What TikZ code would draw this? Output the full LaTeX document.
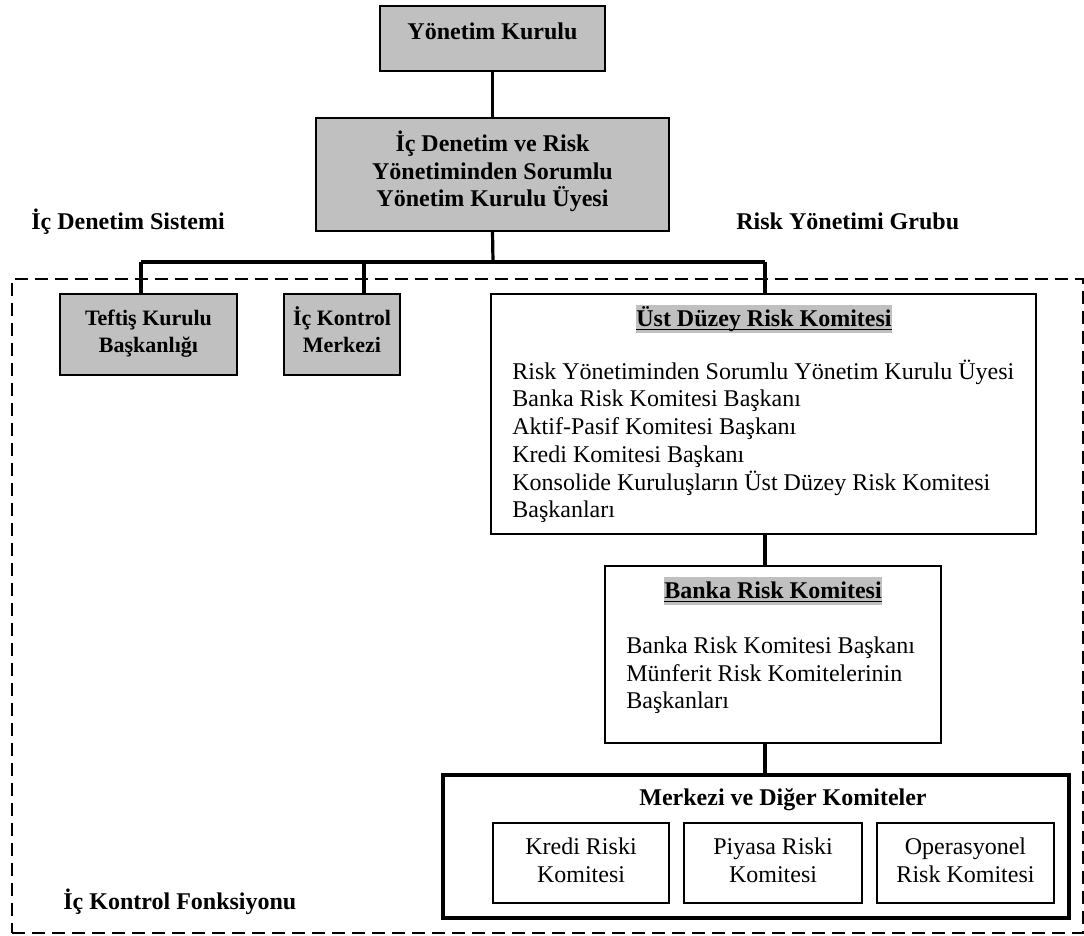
\documentclass[tikz,border=0pt]{standalone}
\usepackage{fontspec}
\setmainfont{Liberation Serif}
\definecolor{boxgray}{RGB}{192,192,192}
\definecolor{hlgray}{RGB}{192,192,192}
% underlined title with a fixed rule position
\newcommand\ultitle[1]{\setbox0=\hbox{#1}\copy0\llap{\rule[-1.7pt]{\wd0}{0.8pt}}}
\tikzset{
  box/.style={draw, line width=1pt, inner sep=0pt, outer sep=0pt},
  gbox/.style={box, fill=boxgray},
  conn/.style={line width=1.6pt},
  bus/.style={line width=2pt},
  frame/.style={draw, line width=1pt, dash pattern=on 6.5pt off 3.5pt, inner sep=0pt},
  btxt/.style={inner sep=0pt, anchor=base, align=center, font=\bfseries\fontsize{12}{13.75}\selectfont},
  stxt/.style={inner sep=0pt, anchor=base, align=center, font=\bfseries\fontsize{11}{13.5}\selectfont},
  rtxt/.style={inner sep=0pt, anchor=base, align=center, font=\fontsize{12}{14}\selectfont},
  ltxt/.style={inner sep=0pt, anchor=base west, align=left, font=\fontsize{12}{13.9}\selectfont},
  hltitle/.style={inner sep=0pt, anchor=base, fill=hlgray, text height=11pt, text depth=3pt, font=\bfseries\fontsize{12}{14}\selectfont},
}
\begin{document}
\begin{tikzpicture}[x=0.5pt, y=-0.5pt]
\useasboundingbox (0,0) rectangle (1084,936);

% outer dashed frame of the internal control function
\node[frame, minimum width=535.5pt, minimum height=327pt] (fonk) at (547.5,606) {};

% top of the hierarchy (multi-line texts are placed by their last baseline)
\node[gbox, minimum width=112.5pt, minimum height=32.5pt] (yk) at (492.5,38.5) {};
\node[btxt] (yk-t) at (492.5,40) {Yönetim Kurulu};
\node[gbox, minimum width=176.5pt, minimum height=56.5pt] (sor) at (492.5,174.5) {};
\node[btxt] (sor-t) at (492.5,207) {İç Denetim ve Risk\\Yönetiminden Sorumlu\\Yönetim Kurulu Üyesi};

\node[btxt, anchor=base west] (ids) at (31,230) {İç Denetim Sistemi};
\node[btxt, anchor=base west] (ryg) at (736,230) {Risk Yönetimi Grubu};

% second level
\node[gbox, minimum width=88.5pt, minimum height=40.5pt] (tef) at (148.5,334.5) {};
\node[stxt] (tef-t) at (148.5,353) {Teftiş Kurulu\\Başkanlığı};
\node[gbox, minimum width=58pt, minimum height=40.5pt] (ick) at (342,334.5) {};
\node[stxt] (ick-t) at (342,353) {İç Kontrol\\Merkezi};

\node[box, fill=white, minimum width=272.5pt, minimum height=120pt] (ust) at (763.5,414) {};
\node[hltitle] (ust-t) at (764,327) {\ultitle{Üst Düzey Risk Komitesi}};
\node[ltxt] (ust-b) at (512,518) {Risk Yönetiminden Sorumlu Yönetim Kurulu Üyesi\\Banka Risk Komitesi Başkanı\\Aktif-Pasif Komitesi Başkanı\\Kredi Komitesi Başkanı\\Konsolide Kuruluşların Üst Düzey Risk Komitesi\\Başkanları};

\node[box, fill=white, minimum width=168pt, minimum height=88.5pt] (banka) at (773,654.5) {};
\node[hltitle] (banka-t) at (773,599) {\ultitle{Banka Risk Komitesi}};
\node[ltxt] (banka-b) at (626,709) {Banka Risk Komitesi Başkanı\\Münferit Risk Komitelerinin\\Başkanları};

% committees group
\node[box, line width=2pt, fill=white, minimum width=313pt, minimum height=71.5pt] (merk) at (756,846.5) {};
\node[btxt] (merk-t) at (783,806) {Merkezi ve Diğer Komiteler};
\node[box, minimum width=88pt, minimum height=40pt] (kredi) at (581,863) {};
\node[rtxt] (kredi-t) at (581,883) {Kredi Riski\\Komitesi};
\node[box, minimum width=89pt, minimum height=40pt] (piyasa) at (773,863) {};
\node[rtxt] (piyasa-t) at (773,883) {Piyasa Riski\\Komitesi};
\node[box, minimum width=88.5pt, minimum height=40pt] (oper) at (965.5,863) {};
\node[rtxt] (oper-t) at (965.5,883) {Operasyonel\\Risk Komitesi};

\node[btxt, anchor=base west] (ikf) at (63,910) {İç Kontrol Fonksiyonu};

% connectors
\coordinate (bus) at (493,262);
\coordinate (xT) at (141,0);
\coordinate (xK) at (364,0);
\coordinate (xR) at (765,0);
\draw[conn] (yk.south) -- (sor.north);
\draw[conn] (sor.south) -- (bus);
\draw[bus] (bus -| xT) -- (bus -| xR);
\draw[conn] (bus -| xT) -- (tef.north -| xT);
\draw[conn] (bus -| xK) -- (ick.north -| xK);
\draw[conn] (bus -| xR) -- (ust.north -| xR);
\draw[conn] (ust.south -| xR) -- (banka.north -| xR);
\draw[conn] (banka.south -| xR) -- (merk.north -| xR);
\end{tikzpicture}
\end{document}
